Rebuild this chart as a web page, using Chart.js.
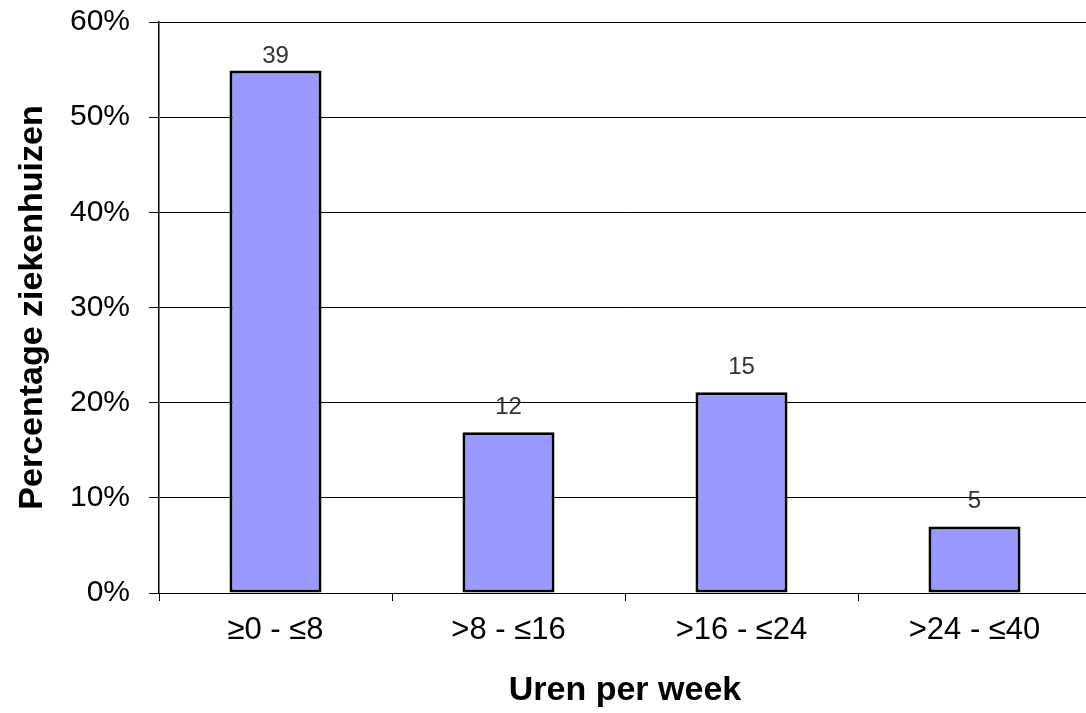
<!DOCTYPE html>
<html>
<head>
<meta charset="utf-8">
<script src="https://cdn.jsdelivr.net/npm/chart.js@4/dist/chart.umd.min.js"></script>
<style>
  html, body { margin: 0; padding: 0; background: #fff; overflow: hidden; }
  canvas { display: block; }
</style>
</head>
<body>
<canvas id="bar-chart" width="1091" height="713"></canvas>
<script>
// hours per week, share of hospitals (%) and hospital counts
const categories = ['≥0 - ≤8', '>8 - ≤16', '>16 - ≤24', '>24 - ≤40'];
const percentages = [54.9, 16.9, 21.1, 7.0];
const counts = [39, 12, 15, 5];
const yTicks = [0, 10, 20, 30, 40, 50, 60];

const FONT = '"Liberation Sans", Arial, sans-serif';

const countLabels = {
  id: 'countLabels',
  afterDatasetsDraw(chart) {
    const ctx = chart.ctx;
    const meta = chart.getDatasetMeta(0);
    ctx.save();
    ctx.font = `24px ${FONT}`;
    ctx.fillStyle = '#333';
    ctx.textAlign = 'center';
    ctx.textBaseline = 'bottom';
    meta.data.forEach((bar, i) => {
      // the tallest bar's label sits tight against the top, as in the original
      const gap = i === 0 ? 2 : 13;
      ctx.fillText(String(counts[i]), bar.x, bar.y - gap);
    });
    ctx.restore();
  },
};

const data = {
  labels: categories,
  datasets: [
    {
      data: percentages,
      backgroundColor: '#9999ff',
      borderColor: '#000',
      borderWidth: 3,
      borderSkipped: false,
      barPercentage: 0.395,
      categoryPercentage: 1,
    },
  ],
};

const config = {
  type: 'bar',
  data: data,
  plugins: [countLabels],
  options: {
    responsive: false,
    animation: false,
    devicePixelRatio: 1,
    layout: { padding: { top: 22, right: 0, bottom: 0, left: 0 } },
    plugins: {
      legend: { display: false },
      tooltip: { enabled: false },
    },
    scales: {
      x: {
        grid: {
          offset: true,
          drawOnChartArea: false,
          drawTicks: true,
          tickLength: 8,
          color: '#000',
        },
        border: { display: true, color: '#000', width: 1 },
        ticks: {
          color: '#000',
          padding: 11,
          font: { family: FONT, size: 31 },
        },
        title: {
          display: true,
          text: 'Uren per week',
          color: '#000',
          font: { family: FONT, size: 34, weight: 'bold' },
          padding: { top: 0, bottom: 2 },
        },
        afterFit: (scale) => {
          scale.height = 120;
        },
      },
      y: {
        min: 0,
        max: 60,
        afterBuildTicks: (scale) => {
          scale.ticks = yTicks.map((v) => ({ value: v }));
        },
        grid: {
          color: '#000',
          lineWidth: 1,
          tickLength: 10,
        },
        border: { display: true, color: '#000', width: 1.5 },
        ticks: {
          color: '#000',
          padding: 19,
          font: { family: FONT, size: 30 },
          callback: (v) => v + '%',
        },
        title: {
          display: true,
          text: 'Percentage ziekenhuizen',
          color: '#000',
          font: { family: FONT, size: 34, weight: 'bold' },
          padding: { top: 12, bottom: 0 },
        },
        afterFit: (scale) => {
          scale.width = 159;
          // tick padding would otherwise push the plot top down
          scale.paddingTop = 0;
          scale.paddingBottom = 0;
        },
      },
    },
  },
};

new Chart(document.getElementById('bar-chart'), config);
</script>
</body>
</html>
